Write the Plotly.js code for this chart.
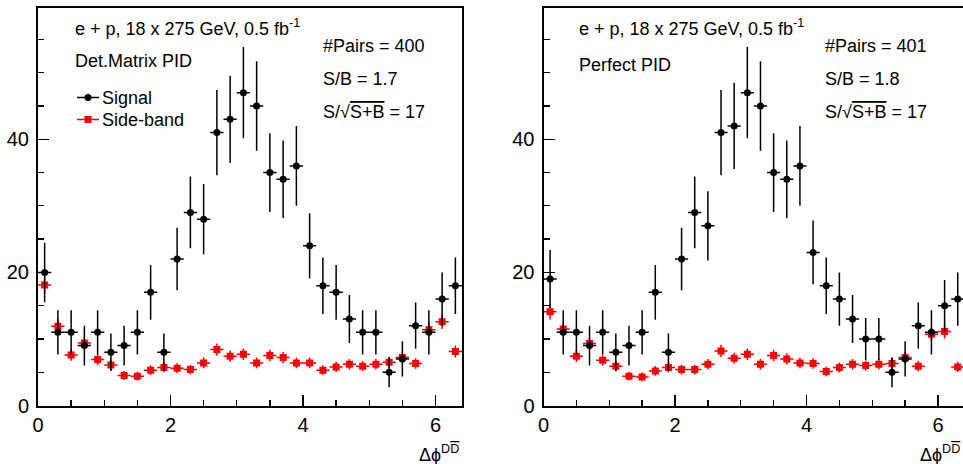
<!DOCTYPE html>
<html>
<head>
<meta charset="utf-8">
<script src="https://cdn.plot.ly/plotly-3.0.1.min.js"></script>
<style>
html,body{margin:0;padding:0;background:#fff;}
#chart{width:963px;height:464px;}
</style>
</head>
<body>
<div id="chart"></div>
<script>
// ---- data ----
const binCenters = [0.1,0.3,0.5,0.7,0.9,1.1,1.3,1.5,1.7,1.9,2.1,2.3,2.5,2.7,2.9,3.1,
                    3.3,3.5,3.7,3.9,4.1,4.3,4.5,4.7,4.9,5.1,5.3,5.5,5.7,5.9,6.1,6.3];
const binHalfWidth = 0.1;

// Left panel: Det.Matrix PID
const signalDet    = [20,11,11,9,11,8,9,11,17,8,22,29,28,41,43,47,45,35,34,36,24,18,17,13,11,11,5,7,12,11,16,18];
const signalDetErr = [4.47,3.32,3.32,3,3.32,2.83,3,3.32,4.12,2.83,4.69,5.39,5.29,6.4,6.56,6.86,6.71,5.92,5.83,6,4.9,4.24,4.12,3.61,3.32,3.32,2.24,2.65,3.46,3.32,4,4.24];
const sideDet      = [18.1,11.9,7.6,9.4,6.9,6.1,4.5,4.4,5.3,5.7,5.6,5.4,6.4,8.4,7.4,7.7,6.4,7.5,7.2,6.4,6.4,5.3,5.8,6.2,5.9,6.2,6.5,7.2,6.3,11.4,12.6,8.1];
const sideDetErr   = [1.35,1.09,0.87,0.97,0.83,0.78,0.67,0.66,0.73,0.75,0.75,0.73,0.8,0.92,0.86,0.88,0.8,0.87,0.85,0.8,0.8,0.73,0.76,0.79,0.77,0.79,0.81,0.85,0.79,1.07,1.12,0.9];

// Right panel: Perfect PID
const signalPerf    = [19,11,11,9,11,8,9,11,17,8,22,29,27,41,42,47,45,35,34,36,23,18,16,13,10,10,5,7,12,11,15,16];
const signalPerfErr = [4.36,3.32,3.32,3,3.32,2.83,3,3.32,4.12,2.83,4.69,5.39,5.2,6.4,6.48,6.86,6.71,5.92,5.83,6,4.8,4.24,4,3.61,3.16,3.16,2.24,2.65,3.46,3.32,3.87,4];
const sidePerf      = [14.1,11.5,7.4,9.3,6.8,5.9,4.4,4.3,5.2,5.7,5.4,5.4,6.2,8.2,7.1,7.7,6.2,7.5,7.0,6.4,6.3,5.1,5.7,6.2,6.0,6.2,6.3,7.2,5.9,10.7,11.1,5.8];
const sidePerfErr   = [1.19,1.07,0.86,0.96,0.82,0.77,0.66,0.66,0.72,0.75,0.73,0.73,0.79,0.91,0.84,0.88,0.79,0.87,0.84,0.8,0.79,0.71,0.75,0.79,0.77,0.79,0.79,0.85,0.77,1.03,1.05,0.76];

// text
const headerText = "e + p, 18 x 275 GeV, 0.5 fb<sup>-1</sup>";
const pidLabels  = ["Det.Matrix PID", "Perfect PID"];
const pairsText  = ["#Pairs = 400", "#Pairs = 401"];
const sbText     = ["S/B = 1.7", "S/B = 1.8"];
const signifText = ["S/√<span style='text-decoration:overline'>S+B</span> = 17",
                    "S/√<span style='text-decoration:overline'>S+B</span> = 17"];
const legendNames = ["Signal", "Side-band"];
const xTitle = "Δϕ<sup>D<span style='text-decoration:overline'>D</span></sup>";

// ---- styling ----
const W = 963, H = 464;
const FONT = "Liberation Sans, Arial, Helvetica, sans-serif";
const px = v => v / W;
const py = v => 1 - v / H;
const BLACK = "#000000", RED = "#ff0000";

function sigTrace(y, err, xa, ya) {
  return {
    type: "scatter", mode: "markers", x: binCenters, y: y, xaxis: xa, yaxis: ya,
    showlegend: false, cliponaxis: true,
    marker: {symbol: "circle", size: 7, color: BLACK},
    error_y: {type: "data", array: err, visible: true, color: BLACK, thickness: 1.5, width: 0},
    error_x: {type: "constant", value: binHalfWidth, visible: true, color: BLACK, thickness: 1.5, width: 0}
  };
}
function sbTrace(y, err, xa, ya) {
  return {
    type: "scatter", mode: "markers", x: binCenters, y: y, xaxis: xa, yaxis: ya,
    showlegend: false, cliponaxis: true,
    marker: {symbol: "square", size: 7, color: RED},
    error_y: {type: "data", array: err, visible: true, color: RED, thickness: 1.5, width: 0},
    error_x: {type: "constant", value: binHalfWidth, visible: true, color: RED, thickness: 1.5, width: 0}
  };
}

const data = [
  sbTrace(sideDet, sideDetErr, "x", "y"),
  sigTrace(signalDet, signalDetErr, "x", "y"),
  sbTrace(sidePerf, sidePerfErr, "x2", "y2"),
  sigTrace(signalPerf, signalPerfErr, "x2", "y2")
];

const yDom = [1 - 405.5 / H, 1 - 7.5 / H];
function xAxis(domain, range, anchor) {
  return {
    domain: domain, range: range, anchor: anchor,
    tick0: 0, dtick: 2, ticks: "inside", ticklen: 11, tickwidth: 1.3, tickcolor: BLACK,
    minor: {dtick: 0.5, ticks: "inside", ticklen: 6, tickwidth: 1.3, tickcolor: BLACK},
    showline: true, linewidth: 2, linecolor: BLACK, mirror: true,
    showgrid: false, zeroline: false,
    tickfont: {family: FONT, size: 20, color: BLACK}
  };
}
function yAxis(anchor, mirror) {
  return {
    domain: yDom, range: [0, 59.8], anchor: anchor,
    tick0: 0, dtick: 20, ticks: "inside", ticklen: 11, tickwidth: 1.3, tickcolor: BLACK,
    minor: {dtick: 5, ticks: "inside", ticklen: 6, tickwidth: 1.3, tickcolor: BLACK},
    showline: true, linewidth: 2, linecolor: BLACK, mirror: mirror,
    showgrid: false, zeroline: false, ticklabelstandoff: 3,
    tickfont: {family: FONT, size: 20, color: BLACK}
  };
}

function ann(text, x, y, opts) {
  return Object.assign({
    text: text, xref: "paper", yref: "paper", x: px(x), y: py(y),
    xanchor: "left", yanchor: "middle", showarrow: false,
    font: {family: FONT, size: 18, color: BLACK}
  }, opts || {});
}

const panelsX = [73, 577];
const statsX = [321, 823];
const annotations = [];
for (let i = 0; i < 2; i++) {
  annotations.push(ann(headerText, panelsX[i], 27));
  annotations.push(ann(pidLabels[i], panelsX[i], i === 0 ? 61 : 65));
  annotations.push(ann(pairsText[i], statsX[i], 46));
  annotations.push(ann(sbText[i], statsX[i], 79));
  annotations.push(ann(signifText[i], statsX[i], 112));
}
annotations.push(ann(xTitle, 461, 453, {xanchor: "right", font: {family: FONT, size: 18, color: BLACK}}));
annotations.push(ann(xTitle, 962, 453, {xanchor: "right", font: {family: FONT, size: 18, color: BLACK}}));
// legend texts
annotations.push(ann(legendNames[0], 100, 98));
annotations.push(ann(legendNames[1], 100, 120));

// legend symbols (decoration only)
const shapes = [
  {type: "line", xref: "paper", yref: "paper", x0: px(77), x1: px(99), y0: py(97.5), y1: py(97.5), line: {color: BLACK, width: 1.5}},
  {type: "circle", xref: "paper", yref: "paper", x0: px(84.5), x1: px(91.5), y0: py(94), y1: py(101), fillcolor: BLACK, line: {color: BLACK, width: 0}},
  {type: "line", xref: "paper", yref: "paper", x0: px(77), x1: px(99), y0: py(119.5), y1: py(119.5), line: {color: RED, width: 1.5}},
  {type: "rect", xref: "paper", yref: "paper", x0: px(84.5), x1: px(91.5), y0: py(116), y1: py(123), fillcolor: RED, line: {color: RED, width: 0}}
];

const layout = {
  width: W, height: H,
  margin: {l: 0, r: 0, t: 0, b: 0},
  paper_bgcolor: "#ffffff", plot_bgcolor: "#ffffff",
  showlegend: false,
  xaxis: xAxis([px(38), px(462)], [0, 6.4], "y"),
  yaxis: yAxis("x", true),
  xaxis2: xAxis([px(543.5), 1], [0, 6.38], "y2"),
  yaxis2: yAxis("x2", false),
  annotations: annotations,
  shapes: shapes,
  font: {family: FONT, color: BLACK}
};

Plotly.newPlot("chart", data, layout, {displayModeBar: false, staticPlot: true});
</script>
</body>
</html>
